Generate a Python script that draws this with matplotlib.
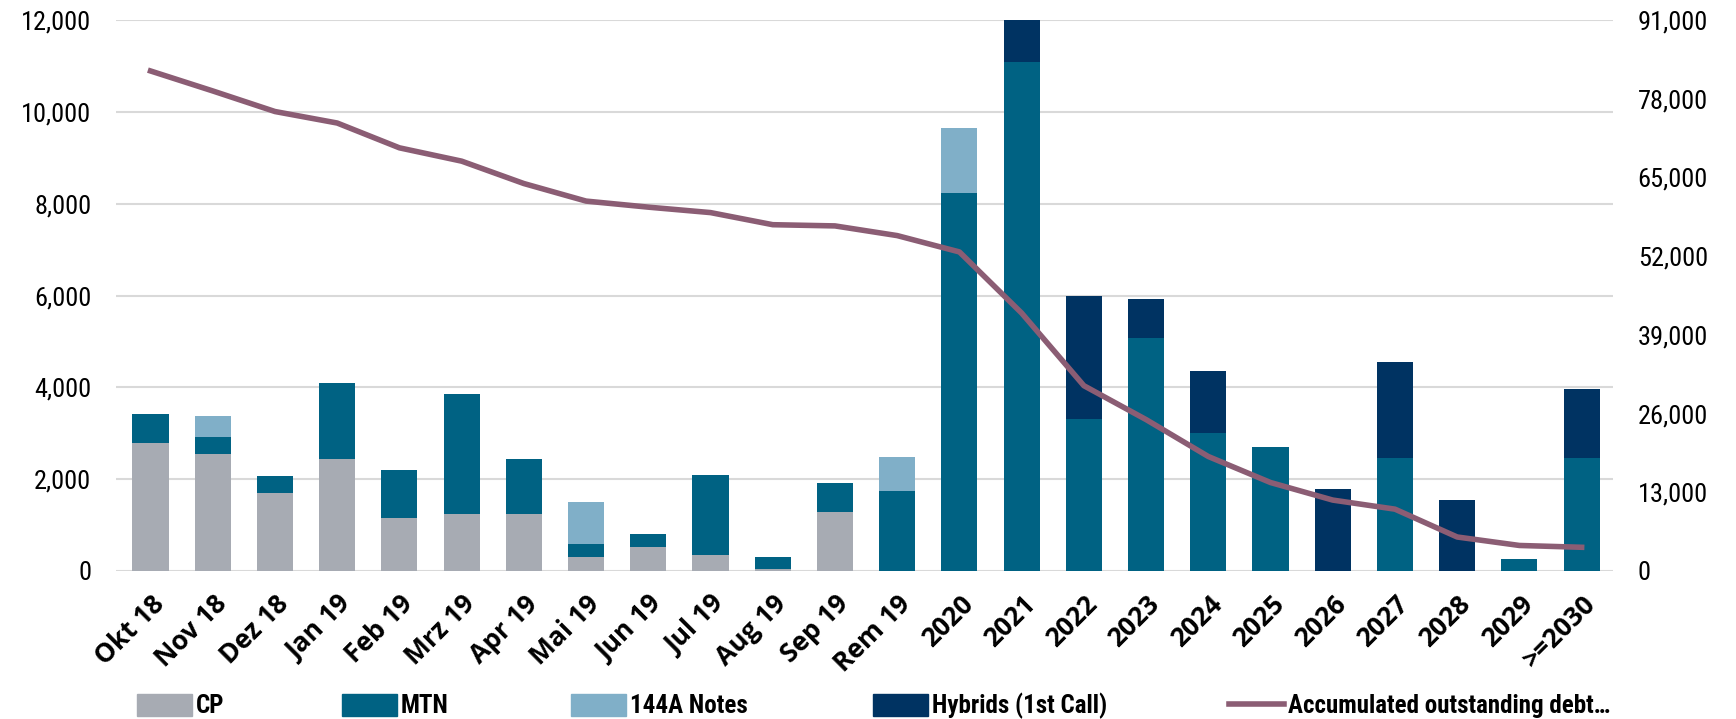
import numpy as np
import matplotlib.pyplot as plt
from matplotlib import font_manager as fm
from matplotlib.patches import Patch
from matplotlib.lines import Line2D

# schmale Schrift, falls vorhanden
names = {f.name for f in fm.fontManager.ttflist}
narrow = [n for n in ['Liberation Sans Narrow', 'Roboto Condensed', 'Open Sans Condensed',
                      'Noto Sans Display'] if n in names]
plt.rcParams['font.family'] = narrow + ['DejaVu Sans']
plt.rcParams['font.stretch'] = 'condensed'

# Fälligkeitsprofil (EUR Mio.)
categories = ['Okt 18', 'Nov 18', 'Dez 18', 'Jan 19', 'Feb 19', 'Mrz 19', 'Apr 19',
              'Mai 19', 'Jun 19', 'Jul 19', 'Aug 19', 'Sep 19', 'Rem 19',
              '2020', '2021', '2022', '2023', '2024', '2025', '2026', '2027',
              '2028', '2029', '>=2030']
cp = [2780, 2550, 1700, 2440, 1150, 1250, 1230, 300, 520, 340, 40, 1290, 0,
      0, 0, 0, 0, 0, 0, 0, 0, 0, 0, 0]
mtn = [630, 375, 370, 1650, 1050, 2600, 1210, 290, 290, 1760, 260, 620, 1730,
       8240, 11090, 3300, 5080, 3010, 2690, 0, 2450, 0, 250, 2470]
notes_144a = [0, 460, 0, 0, 0, 0, 0, 920, 0, 0, 0, 0, 750,
              1400, 0, 0, 0, 0, 0, 0, 0, 0, 0, 0]
hybrids = [0, 0, 0, 0, 0, 0, 0, 0, 0, 0, 0, 0, 0,
           0, 1200, 2700, 850, 1350, 0, 1790, 2100, 1550, 0, 1500]
accumulated = [82600, 79300, 75900, 74000, 69900, 67700, 64000, 61100, 60100,
               59200, 57200, 57000, 55400, 52700, 42600, 30600, 25000, 18900,
               14600, 11700, 10200, 5600, 4200, 3900]

c_cp = '#A7ABB3'
c_mtn = '#006283'
c_144a = '#80AFC8'
c_hyb = '#003362'
c_line = '#8B5D74'

x = np.arange(len(categories))
w = 0.58

fig = plt.figure(figsize=(17.36, 7.19), dpi=100)
ax = fig.add_axes([0.067, 0.206, 0.862, 0.766])

b1 = np.array(cp)
b2 = b1 + np.array(mtn)
b3 = b2 + np.array(notes_144a)
ax.bar(x, cp, w, color=c_cp, zorder=2)
ax.bar(x, mtn, w, bottom=b1, color=c_mtn, zorder=2)
ax.bar(x, notes_144a, w, bottom=b2, color=c_144a, zorder=2)
ax.bar(x, hybrids, w, bottom=b3, color=c_hyb, zorder=2)

ax.set_ylim(0, 12000)
ax.set_yticks(np.arange(0, 12001, 2000))
ax.yaxis.set_major_formatter(plt.FuncFormatter(lambda v, p: f'{int(v):,}'))
ax.grid(axis='y', color='#D9D9D9', linewidth=1.5, zorder=0)
ax.set_xlim(-0.55, len(categories) - 0.5)
ax.set_xticks(x)
ax.set_xticklabels(categories, rotation=45, ha='right', rotation_mode='anchor',
                   fontsize=19, fontweight='bold', family=['Open Sans', 'DejaVu Sans'],
                   fontstretch='normal')
ax.tick_params(axis='both', length=0)
ax.tick_params(axis='x', pad=14)
ax.tick_params(axis='y', labelsize=19, pad=18)
for s in ax.spines.values():
    s.set_visible(False)

ax2 = ax.twinx()
ax2.plot(x, accumulated, color=c_line, linewidth=4, zorder=3)
ax2.set_ylim(0, 91000)
ax2.set_yticks(np.arange(0, 91001, 13000))
ax2.yaxis.set_major_formatter(plt.FuncFormatter(lambda v, p: f'{int(v):,}'))
ax2.tick_params(axis='y', length=0, labelsize=19, pad=18)
for s in ax2.spines.values():
    s.set_visible(False)

# Legende unten, Einträge einzeln platziert
handles = [Patch(color=c_cp), Patch(color=c_mtn), Patch(color=c_144a), Patch(color=c_hyb),
           Line2D([], [], color=c_line, linewidth=4)]
labels = ['CP', 'MTN', '144A Notes', 'Hybrids (1st Call)', 'Accumulated outstanding debt…']
xpos = [0.079, 0.197, 0.329, 0.503, 0.708]
for h, l, xp in zip(handles, labels, xpos):
    fig.legend([h], [l], loc='center left', bbox_to_anchor=(xp, 0.018), frameon=False,
               prop={'weight': 'bold', 'size': 18, 'stretch': 'condensed'},
               handlelength=2.2, handleheight=1.0,
               handletextpad=0.15, borderaxespad=0, borderpad=0)

fig.savefig('out.png', dpi=100)
